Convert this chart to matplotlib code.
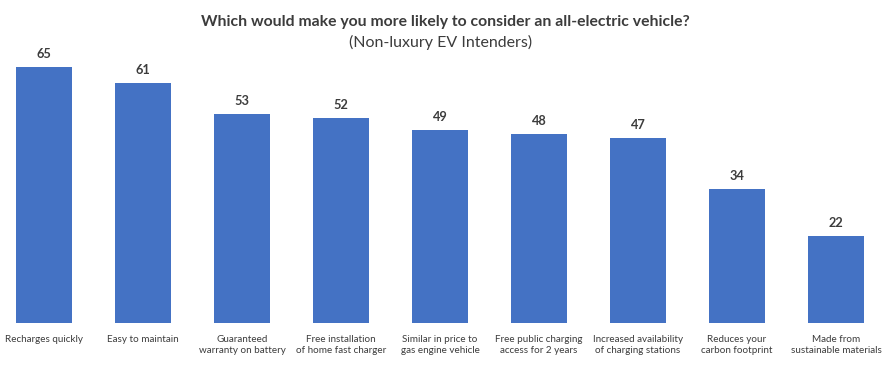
import matplotlib.pyplot as plt
import numpy as np

categories = [
    "Recharges quickly",
    "Easy to maintain",
    "Guaranteed\nwarranty on battery",
    "Free installation\nof home fast charger",
    "Similar in price to\ngas engine vehicle",
    "Free public charging\naccess for 2 years",
    "Increased availability\nof charging stations",
    "Reduces your\ncarbon footprint",
    "Made from\nsustainable materials",
]
values = [65, 61, 53, 52, 49, 48, 47, 34, 22]

plt.rcParams["font.family"] = ["Lato", "DejaVu Sans"]
text_color = "#3c3c3c"
bar_color = "#4472C4"

fig = plt.figure(figsize=(8.9, 3.67), dpi=100)
ax = fig.add_axes([0.0, 0.12, 1.0, 0.6975])

x = np.arange(len(values))
ax.bar(x, values, width=0.57, color=bar_color)
for xi, v in zip(x, values):
    ax.annotate(str(v), (xi, v), xytext=(0, 5), textcoords="offset points",
                ha="center", va="bottom", fontsize=9.2, fontweight="bold",
                color=text_color)

ax.set_xlim(-44 / 99, 846 / 99)
ax.set_ylim(0, 65)
ax.set_xticks(x)
ax.set_xticklabels(categories, fontsize=7.1, color=text_color, linespacing=1.25)
ax.tick_params(axis="x", length=0, pad=9)
ax.set_yticks([])
for s in ax.spines.values():
    s.set_visible(False)

fig.text(0.5, 0.94, "Which would make you more likely to consider an all-electric vehicle?",
         ha="center", va="center", fontsize=11.3, fontweight="bold", color=text_color)
fig.text(0.495, 0.883, "(Non-luxury EV Intenders)", ha="center", va="center",
         fontsize=11.5, color=text_color)

fig.savefig("out.png", dpi=100)
